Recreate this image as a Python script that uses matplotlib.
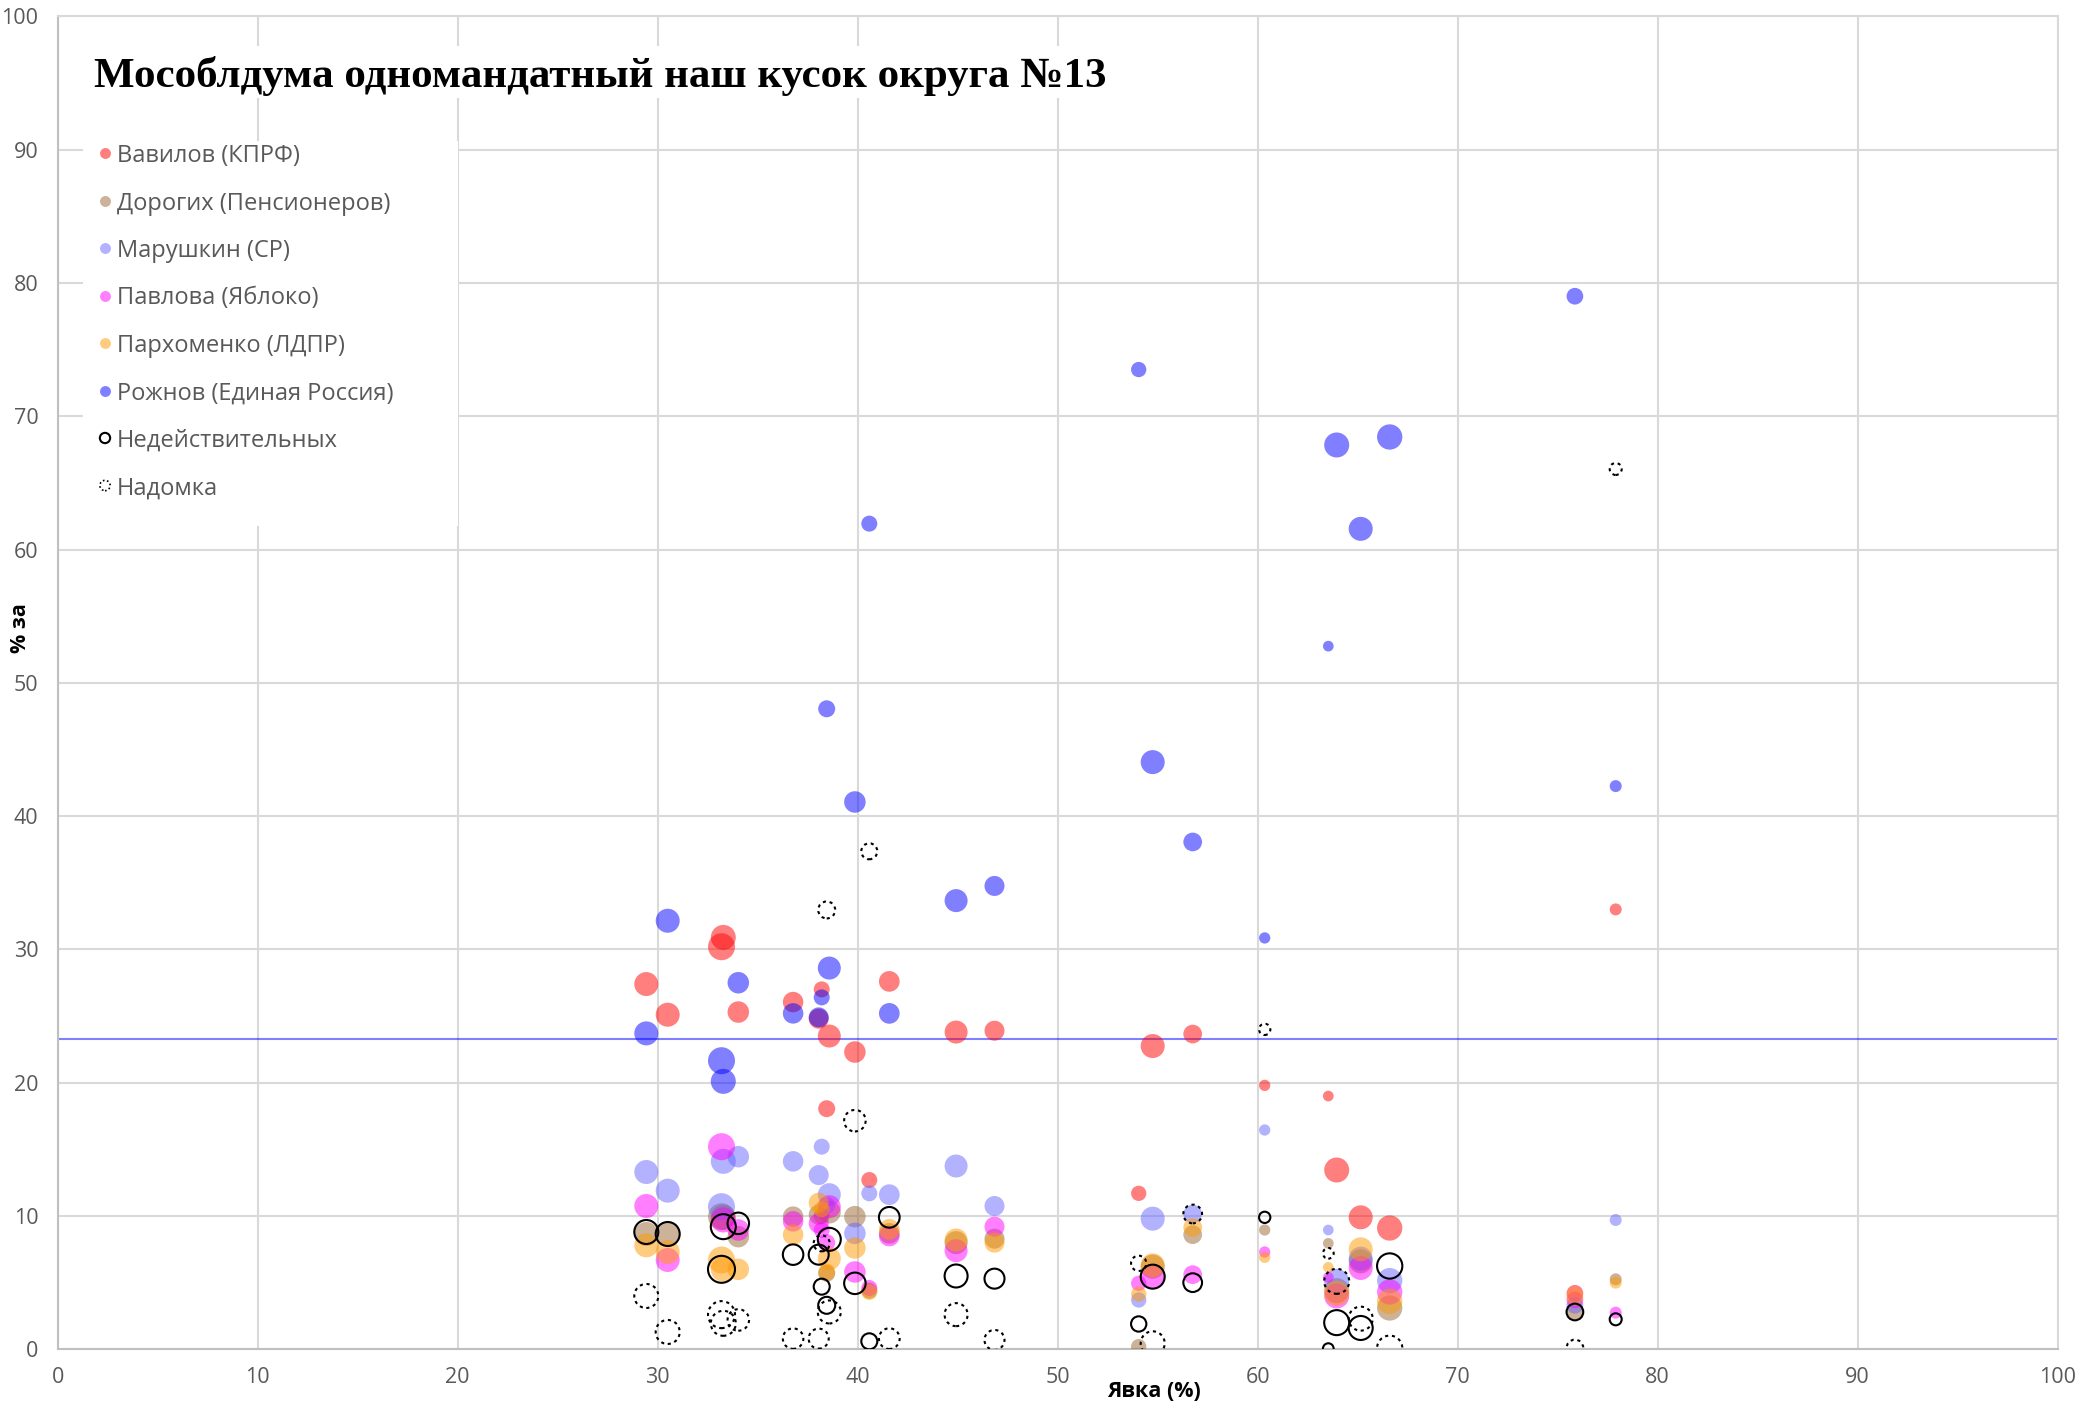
import matplotlib
matplotlib.use("Agg")
import matplotlib.pyplot as plt
from matplotlib.patches import Rectangle
import numpy as np

# ---------------- data ----------------
title = "Мособлдума одномандатный наш кусок округа №13"
x_label = "Явка (%)"
y_label = "% за"

# turnout (%) per polling station
turnout = [29.43, 30.5, 33.19, 33.28, 34.03, 36.77, 38.2, 38.05, 38.58, 38.45,
           39.86, 40.58, 41.58, 44.92, 46.84, 54.05, 54.75, 56.75, 60.35, 63.53,
           63.95, 65.15, 66.6, 75.86, 77.9]
# bubble size value (estimated voters) per polling station
voters = [1440, 1440, 1822, 1562, 1156, 1051, 640, 1000, 1322, 722,
          1156, 640, 1071, 1322, 1000, 585, 1440, 874, 319, 286,
          1562, 1440, 1600, 697, 360]

vavilov = [27.4, 25.1, 30.2, 30.9, 25.3, 26.05, 27.0, 24.8, 23.5, 18.05,
           22.3, 12.7, 27.6, 23.8, 23.9, 11.7, 22.75, 23.65, 19.8, 19.0,
           13.45, 9.9, 9.1, 4.2, 33.0]
dorogikh = [8.65, 8.65, 9.95, 9.9, 8.45, 9.95, 10.0, 10.1, 10.3, 5.7,
            9.95, 4.4, 8.7, 8.0, 8.3, 0.2, 6.2, 8.6, 8.95, 7.95,
            4.4, 6.6, 3.1, 2.85, 5.25]
marushkin = [13.3, 11.9, 10.7, 14.1, 14.45, 14.1, 15.2, 13.07, 11.6, 10.8,
             8.7, 11.7, 11.6, 13.75, 10.75, 3.7, 9.8, 10.15, 16.45, 8.95,
             5.1, 6.8, 5.15, 3.3, 9.7]
pavlova = [10.75, 6.7, 15.2, 9.7, 8.95, 9.6, 8.95, 9.45, 10.7, 8.0,
           5.8, 4.6, 8.5, 7.4, 9.2, 4.95, 5.45, 5.6, 7.3, 5.4,
           4.0, 6.1, 4.3, 3.7, 2.75]
parkhomenko = [7.8, 7.3, 6.7, 6.0, 6.0, 8.6, 10.5, 11.0, 6.8, 5.8,
               7.6, 4.3, 9.0, 8.2, 8.0, 4.15, 6.3, 9.15, 6.9, 6.15,
               4.2, 7.5, 3.6, 3.9, 5.0]
rozhnov = [23.7, 32.15, 21.65, 20.1, 27.5, 25.2, 26.4, 24.9, 28.6, 48.05,
           41.06, 61.94, 25.2, 33.66, 34.76, 73.5, 44.05, 38.06, 30.86, 52.75,
           67.84, 61.55, 68.44, 79.0, 42.25]
invalid = [8.8, 8.65, 6.0, 9.2, 9.45, 7.1, 4.7, 7.1, 8.25, 3.3,
           4.95, 0.6, 9.9, 5.5, 5.3, 1.9, 5.45, 5.0, 9.9, 0.05,
           2.0, 1.6, 6.25, 2.8, 2.25]
nadomka = [4.0, 1.3, 2.6, 1.95, 2.2, 0.8, 7.95, 0.8, 2.8, 32.96,
           17.15, 37.36, 0.8, 2.6, 0.7, 6.45, 0.45, 10.15, 24.0, 7.2,
           5.1, 2.3, 0.08, 0.1, 66.04]

avg_level = 23.3

series_names = ["Вавилов (КПРФ)", "Дорогих (Пенсионеров)", "Марушкин (СР)",
                "Павлова (Яблоко)", "Пархоменко (ЛДПР)", "Рожнов (Единая Россия)",
                "Недействительных", "Надомка"]
series_values = [vavilov, dorogikh, marushkin, pavlova, parkhomenko, rozhnov,
                 invalid, nadomka]
x_ticks = list(range(0, 101, 10))
y_ticks = list(range(0, 101, 10))

# ---------------- style ----------------
W, H = 2089, 1415
fill_colors = ["#ff0000", "#996633", "#6666ff", "#ff00ff", "#ff9900", "#0000ff"]
grid_c = "#d9d9d9"
axis_c = "#bfbfbf"
tick_c = "#595959"
sans = ["Open Sans", "DejaVu Sans"]
plt.rcParams["font.family"] = sans
size_scale = 0.2074

fig = plt.figure(figsize=(W / 100, H / 100), dpi=100)
ax = fig.add_axes([57.7 / W, 1 - 1349.3 / H, 2000 / W, 1333 / H])
ax.set_xlim(0, 100)
ax.set_ylim(0, 100)
ax.set_xticks(x_ticks)
ax.set_yticks(y_ticks)
ax.grid(True, color=grid_c, linewidth=1.5)
ax.set_axisbelow(True)
for key, sp in ax.spines.items():
    sp.set_color(axis_c if key in ("left", "bottom") else grid_c)
    sp.set_linewidth(1.5)
ax.tick_params(axis="x", length=0, labelsize=15.5, labelcolor=tick_c, pad=13)
ax.tick_params(axis="y", length=0, labelsize=15.5, labelcolor=tick_c, pad=14)

sizes = np.array(voters) * size_scale
for i in range(6):
    ax.scatter(turnout, series_values[i], s=sizes, color=fill_colors[i],
               alpha=0.5, linewidths=0, zorder=3)
ax.scatter(turnout, invalid, s=sizes, facecolors="none", edgecolors="black",
           linewidths=1.5, zorder=4)
ax.scatter(turnout, nadomka, s=sizes, facecolors="none", edgecolors="black",
           linewidths=1.5, linestyle=(0, (1.5, 1.8)), zorder=4)

ax.axhline(avg_level, color="#0000ff", alpha=0.5, linewidth=1.5, zorder=2)

# axis titles
fig.text(1154 / W, 1 - 1397 / H, x_label, ha="center", va="baseline",
         fontsize=15.5, fontweight="bold", color="black")
fig.text(20 / W, 1 - 628 / H, y_label, ha="center", va="center", rotation=90,
         fontsize=15.5, fontweight="bold", color="black")

# title box + title
fig.patches.append(Rectangle((83 / W, 1 - 98 / H), (1130 - 83) / W, 52 / H,
                             transform=fig.transFigure, facecolor="white",
                             edgecolor="none", zorder=5))
fig.text(94 / W, 1 - 87.5 / H, title, ha="left", va="baseline",
         fontsize=31, fontweight="bold", family=["Liberation Serif", "DejaVu Serif"],
         color="black", zorder=6)

# legend box + entries
fig.patches.append(Rectangle((83 / W, 1 - 526 / H), (458 - 83) / W, (526 - 141) / H,
                             transform=fig.transFigure, facecolor="white",
                             edgecolor="none", zorder=5))
leg_ax = fig.add_axes([0, 0, 1, 1], zorder=6)
leg_ax.set_xlim(0, W)
leg_ax.set_ylim(H, 0)
leg_ax.axis("off")
for i, name in enumerate(series_names):
    yy = 153 + 47.5 * i
    if i < 6:
        leg_ax.scatter([105], [yy], s=62, color=fill_colors[i], alpha=0.5, linewidths=0)
    elif i == 6:
        leg_ax.scatter([105], [yy], s=55, facecolors="none", edgecolors="black", linewidths=1.5)
    else:
        leg_ax.scatter([105], [yy], s=55, facecolors="none", edgecolors="black",
                       linewidths=1.2, linestyle=(0, (1, 1.5)))
    leg_ax.text(117, yy, name, ha="left", va="center_baseline", fontsize=17,
                color=tick_c)

fig.savefig("out.png", dpi=100)
